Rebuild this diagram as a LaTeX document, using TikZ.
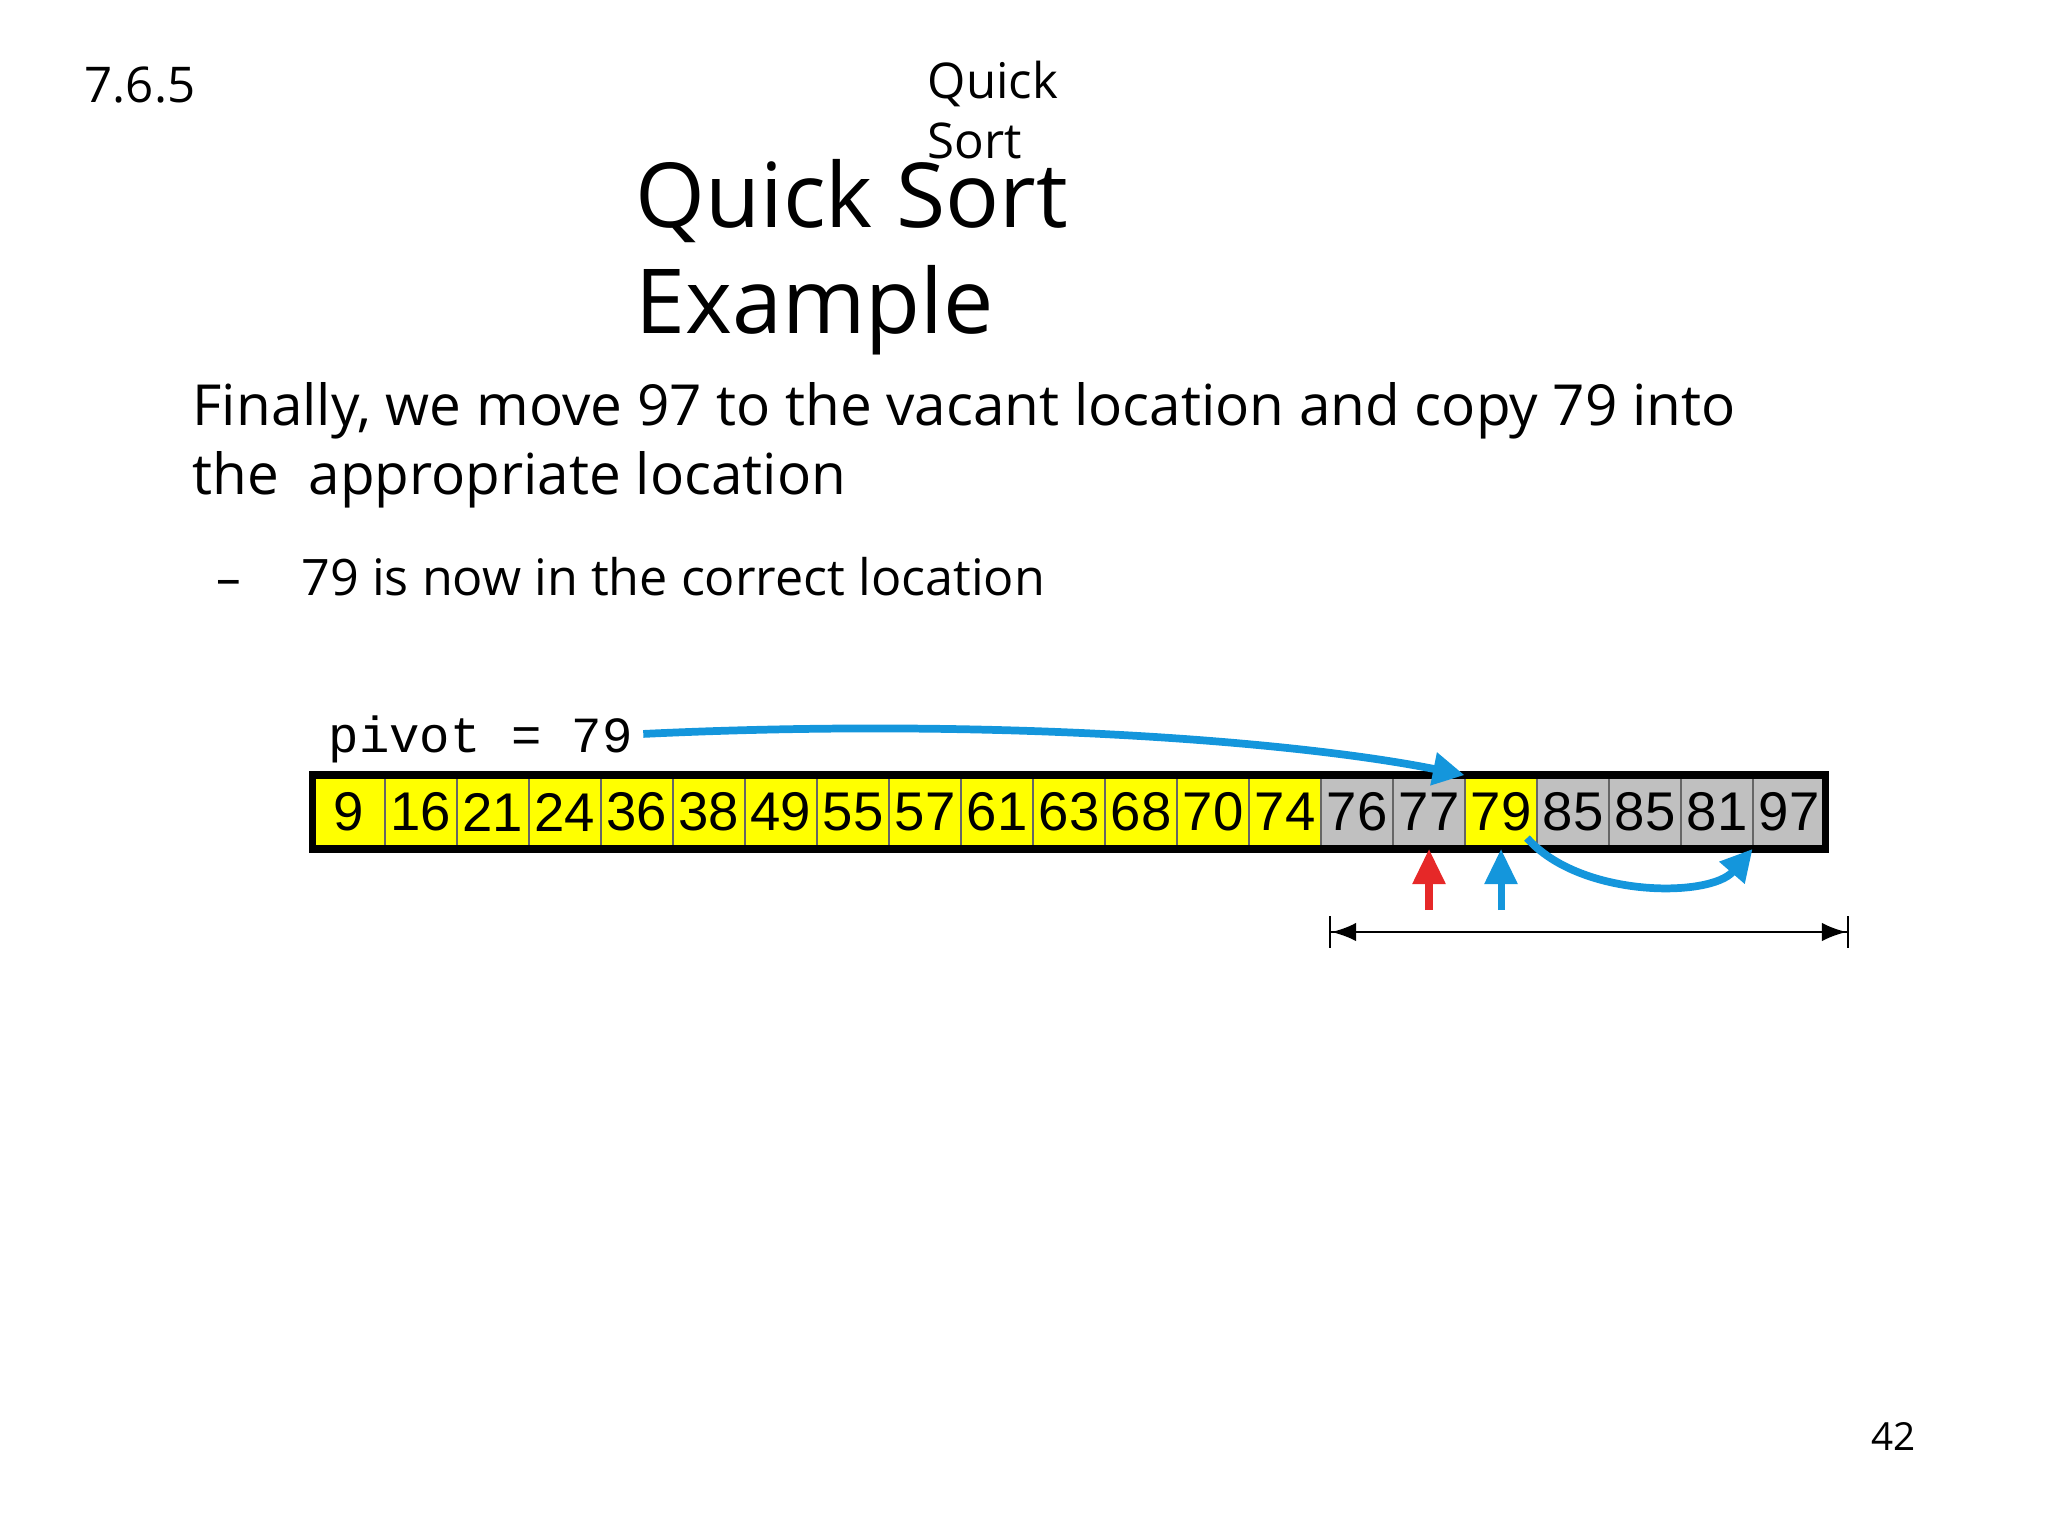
\documentclass[tikz,border=0pt]{standalone}
\usepackage{fontspec}
\setmainfont{Open Sans}
\newfontfamily\arrfont{Liberation Sans}
\newfontfamily\monofont{Liberation Mono}
\usetikzlibrary{arrows.meta}
\definecolor{cyel}{RGB}{255,255,0}
\definecolor{cgry}{RGB}{192,192,192}
\definecolor{cblu}{RGB}{20,150,220}
\definecolor{cred}{RGB}{230,40,40}
\begin{document}
\begin{tikzpicture}[x=0.01cm,y=-0.01cm,
  txt/.style={anchor=base west,inner sep=0pt},
  blu/.style={cblu,line width=2.2pt,-{Triangle[length=9pt,width=9pt]}}]
\useasboundingbox (0,0) rectangle (2048,1535);
\node[txt,font=\fontsize{14}{14}\selectfont] (sec) at (84,102) {7.6.5};
\node[txt,font=\fontsize{14}{14}\selectfont] (qs1) at (927,98) {Quick};
\node[txt,font=\fontsize{14}{14}\selectfont] (qs2) at (927,158) {Sort};
\node[txt,font=\fontsize{25.5}{25.5}\selectfont] (t1) at (635,227) {Quick Sort};
\node[txt,font=\fontsize{25.5}{25.5}\selectfont] (t2) at (635,333) {Example};
\node[txt,font=\fontsize{16.1}{16.1}\selectfont] (b1) at (192,425) {Finally, we move 97 to the vacant location and copy 79 into};
\node[txt,font=\fontsize{16.1}{16.1}\selectfont] (b2) at (192,494) {the\ \ appropriate location};
\node[txt,font=\fontsize{14}{14}\selectfont] (d) at (216,595) {–};
\node[txt,font=\fontsize{14.3}{14.3}\selectfont] (b3) at (301,595) {79 is now in the correct location};
\node[txt,font=\fontsize{11}{11}\selectfont] (pg) at (1871,1450) {42};
\node[txt,font=\monofont\fontsize{14.4}{14.4}\selectfont] (pv) at (328,752) {pivot = 79};
\foreach \v [count=\i from 0] in {9,16,21,24,36,38,49,55,57,61,63,68,70,74,76,77,79,85,85,81,97}{
  \pgfmathsetmacro\cx{313+72*\i+36}
  \ifnum\i>13 \def\cc{cgry}\else\def\cc{cyel}\fi
  \ifnum\i=16 \def\cc{cyel}\fi
  \node[draw=black!60,line width=0.5pt,fill=\cc,minimum width=0.71cm,minimum height=0.72cm,inner sep=0pt,font=\arrfont\fontsize{15.5}{15.5}\selectfont] (c\i) at (\cx,812) {\v};
}
\draw[line width=2.2pt] (c0.north west) rectangle (c20.south east);
\draw[blu] (pv.east) ++(10,-5) coordinate (p0) .. controls (1000,717) and (1300,742) .. (c16.north west);
\coordinate (q0) at (1527,838);
\draw[blu] (q0) .. controls (1580,898) and (1710,898) .. (c20.south west);
\coordinate (r0) at (c15.south |- 0,910);
\coordinate (s0) at (c16.south |- 0,910);
\draw[cred,line width=2pt,-{Triangle[length=10pt,width=9pt]}] (r0) -- (c15.south);
\draw[cblu,line width=2pt,-{Triangle[length=10pt,width=9pt]}] (s0) -- (c16.south);
\coordinate (ra) at (1329,932);
\coordinate (rb) at (1849,932);
\draw[line width=0.7pt,{Bar[width=9pt]Latex[length=7pt]}-{Latex[length=7pt]Bar[width=9pt]}] (ra) -- (rb);
\end{tikzpicture}
\end{document}
